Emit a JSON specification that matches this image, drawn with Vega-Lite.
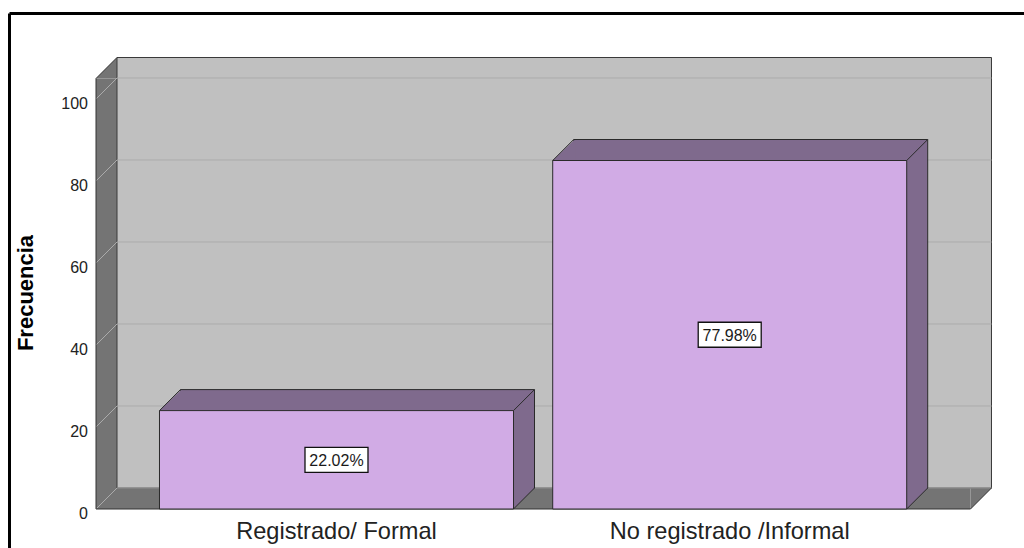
{
  "$schema": "https://vega.github.io/schema/vega-lite/v6.json",
  "width": 1015,
  "height": 535,
  "autosize": {"type": "none"},
  "padding": {"left": 9, "top": 13, "right": 0, "bottom": 0},
  "background": "white",
  "config": {"view": {"stroke": null}, "font": "Liberation Sans"},
  "datasets": {
    "frecuencias": [
      {"categoria": "Registrado/ Formal", "frecuencia": 24, "porcentaje": 0.2202},
      {"categoria": "No registrado /Informal", "frecuencia": 85, "porcentaje": 0.7798}
    ],
    "marco": [{}],
    "rejilla": [{"valor": 0}, {"valor": 20}, {"valor": 40}, {"valor": 60}, {"valor": 80}, {"valor": 100}]
  },
  "layer": [
    {
      "layer": [
        {
          "data": {"name": "marco"},
          "mark": {"type": "rect", "fill": "#747474"},
          "encoding": {
            "x": {"datum": 0, "type": "quantitative",
              "scale": {"domain": [-0.09949, 1.06118], "nice": false, "zero": false},
              "axis": {"orient": "top", "labels": false, "ticks": false, "tickSize": 0, "grid": false, "title": null, "domain": true, "domainColor": "#000000", "domainWidth": 3}},
            "x2": {"datum": 1},
            "y": {"datum": 0, "type": "quantitative",
              "scale": {"domain": [-9.512, 120.976], "nice": false, "zero": false},
              "axis": {"orient": "left", "values": [0, 20, 40, 60, 80, 100], "grid": false, "ticks": false, "tickSize": 0,
                "labelPadding": -78.5, "labelAlign": "right", "labelBaseline": "alphabetic", "labelOffset": 9.8,
                "labelFontSize": 16, "labelColor": "#222222", "labelFont": "Liberation Sans", "labelOverlap": false,
                "domain": true, "domainColor": "#000000", "domainWidth": 3,
                "title": "Frecuencia", "titleFont": "Liberation Sans", "titleFontSize": 22, "titleFontWeight": "bold", "titleColor": "#000000",
                "titleX": 16, "titleY": 279.5, "titleAngle": -90, "titleBaseline": "middle", "titleAlign": "center"}},
            "y2": {"datum": 105}
          }
        },
        {
          "data": {"name": "marco"},
          "mark": {"type": "point", "shape": "M0,0L21,-21L21,0Z", "size": 4, "filled": true, "fill": "#747474", "strokeWidth": 0, "opacity": 1},
          "encoding": {"x": {"datum": 0, "type": "quantitative"}, "y": {"datum": 105, "type": "quantitative"}}
        },
        {
          "data": {"name": "marco"},
          "mark": {"type": "point", "shape": "M0,0L21,-21L0,-21Z", "size": 4, "filled": true, "fill": "#747474", "strokeWidth": 0, "opacity": 1},
          "encoding": {"x": {"datum": 1, "type": "quantitative"}, "y": {"datum": 0, "type": "quantitative"}}
        },
        {
          "data": {"name": "marco"},
          "mark": {"type": "rect", "fill": "#c0c0c0", "stroke": "#3a3a3a", "strokeWidth": 1, "xOffset": 21, "x2Offset": 21, "yOffset": -21, "y2Offset": -21},
          "encoding": {
            "x": {"datum": 0, "type": "quantitative"}, "x2": {"datum": 1},
            "y": {"datum": 0, "type": "quantitative"}, "y2": {"datum": 105}
          }
        },
        {
          "data": {"name": "rejilla"},
          "mark": {"type": "rule", "color": "#ababab", "strokeWidth": 1, "xOffset": 21, "x2Offset": 21, "yOffset": -21, "y2Offset": -21},
          "encoding": {
            "x": {"datum": 0, "type": "quantitative"}, "x2": {"datum": 1},
            "y": {"field": "valor", "type": "quantitative"}
          }
        },
        {
          "data": {"name": "rejilla"},
          "mark": {"type": "point", "shape": "M0,0L21,-21", "size": 4, "filled": false, "stroke": "#ababab", "strokeWidth": 1, "opacity": 1},
          "encoding": {
            "x": {"datum": 0, "type": "quantitative"},
            "y": {"field": "valor", "type": "quantitative"}
          }
        },
        {
          "data": {"name": "marco"},
          "mark": {"type": "rule", "color": "#333333", "strokeWidth": 1},
          "encoding": {
            "x": {"datum": 0, "type": "quantitative"},
            "y": {"datum": 0, "type": "quantitative"}, "y2": {"datum": 105}
          }
        },
        {
          "data": {"name": "marco"},
          "mark": {"type": "rule", "color": "#333333", "strokeWidth": 1},
          "encoding": {
            "x": {"datum": 0, "type": "quantitative"}, "x2": {"datum": 1},
            "y": {"datum": 0, "type": "quantitative"}
          }
        },
        {
          "data": {"name": "marco"},
          "mark": {"type": "point", "shape": "M0,0L21,-21", "size": 4, "filled": false, "stroke": "#333333", "strokeWidth": 1, "opacity": 1},
          "encoding": {"x": {"datum": 0, "type": "quantitative"}, "y": {"datum": 105, "type": "quantitative"}}
        },
        {
          "data": {"name": "marco"},
          "mark": {"type": "point", "shape": "M0,0L21,-21", "size": 4, "filled": false, "stroke": "#333333", "strokeWidth": 1, "opacity": 1},
          "encoding": {"x": {"datum": 1, "type": "quantitative"}, "y": {"datum": 0, "type": "quantitative"}}
        }
      ]
    },
    {
      "data": {"name": "frecuencias"},
      "encoding": {
        "x": {"field": "categoria", "type": "nominal", "sort": null,
          "scale": {"type": "band", "paddingInner": 0.0997, "paddingOuter": 0.3405, "align": 0.562},
          "axis": {"orient": "bottom", "domain": false, "ticks": false, "tickSize": 0, "grid": false, "title": null,
            "labelPadding": -9.7, "labelBaseline": "alphabetic", "labelAngle": 0, "labelFontSize": 23.6, "labelLimit": 0,
            "labelColor": "#222222", "labelFont": "Liberation Sans"}},
        "y": {"field": "frecuencia", "type": "quantitative",
          "scale": {"domain": [-9.512, 120.976], "nice": false, "zero": false}, "axis": null}
      },
      "layer": [
        {
          "mark": {"type": "bar", "fill": "#7f6a8d", "stroke": "#2a2a2a", "strokeWidth": 1, "xOffset": 21, "x2Offset": 21, "yOffset": -21, "y2Offset": -21},
          "encoding": {"y2": {"datum": 0}}
        },
        {
          "mark": {"type": "point", "shape": "M0,0L21,-20L22.5,-20L22.5,0Z", "size": 4, "filled": true, "fill": "#7f6a8d", "strokeWidth": 0, "opacity": 1},
          "encoding": {"x": {"field": "categoria", "type": "nominal", "sort": null, "bandPosition": 0}}
        },
        {
          "mark": {"type": "point", "shape": "M0,0L0,-22L20.4,-22L20.4,-20.4Z", "size": 4, "filled": true, "fill": "#7f6a8d", "strokeWidth": 0, "opacity": 1},
          "encoding": {"x": {"field": "categoria", "type": "nominal", "sort": null, "bandPosition": 1}, "y": {"datum": 0, "type": "quantitative"}}
        },
        {
          "mark": {"type": "bar", "fill": "#d1abe5", "stroke": "#2a2a2a", "strokeWidth": 1},
          "encoding": {"y2": {"datum": 0}}
        },
        {
          "mark": {"type": "point", "shape": "M0,0L21,-21", "size": 4, "filled": false, "stroke": "#2a2a2a", "strokeWidth": 1, "opacity": 1},
          "encoding": {"x": {"field": "categoria", "type": "nominal", "sort": null, "bandPosition": 0}}
        },
        {
          "mark": {"type": "point", "shape": "M0,0L21,-21", "size": 4, "filled": false, "stroke": "#2a2a2a", "strokeWidth": 1, "opacity": 1},
          "encoding": {"x": {"field": "categoria", "type": "nominal", "sort": null, "bandPosition": 1}}
        },
        {
          "mark": {"type": "point", "shape": "M0,0L21,-21", "size": 4, "filled": false, "stroke": "#2a2a2a", "strokeWidth": 1, "opacity": 1},
          "encoding": {"x": {"field": "categoria", "type": "nominal", "sort": null, "bandPosition": 1}, "y": {"datum": 0, "type": "quantitative"}}
        }
      ]
    },
    {
      "data": {"name": "frecuencias"},
      "encoding": {
        "x": {"field": "categoria", "type": "nominal", "sort": null,
          "scale": {"type": "band", "paddingInner": 0.0997, "paddingOuter": 0.3405, "align": 0.562}, "axis": null},
        "y": {"field": "frecuencia", "type": "quantitative",
          "scale": {"domain": [-19.024, 241.952], "nice": false, "zero": false}, "axis": null}
      },
      "layer": [
        {
          "mark": {"type": "point", "shape": "M-31.5,-12.5H31.5V12.5H-31.5Z", "size": 4, "filled": true, "fill": "#ffffff", "stroke": "#111111", "strokeWidth": 1.3, "opacity": 1}
        },
        {
          "mark": {"type": "text", "fontSize": 16, "font": "Liberation Sans", "color": "#1a1a1a", "align": "center", "baseline": "middle", "dy": 1},
          "encoding": {"text": {"field": "porcentaje", "type": "quantitative", "format": ".2%"}}
        }
      ]
    }
  ],
  "resolve": {"scale": {"x": "independent", "y": "independent"}}
}
